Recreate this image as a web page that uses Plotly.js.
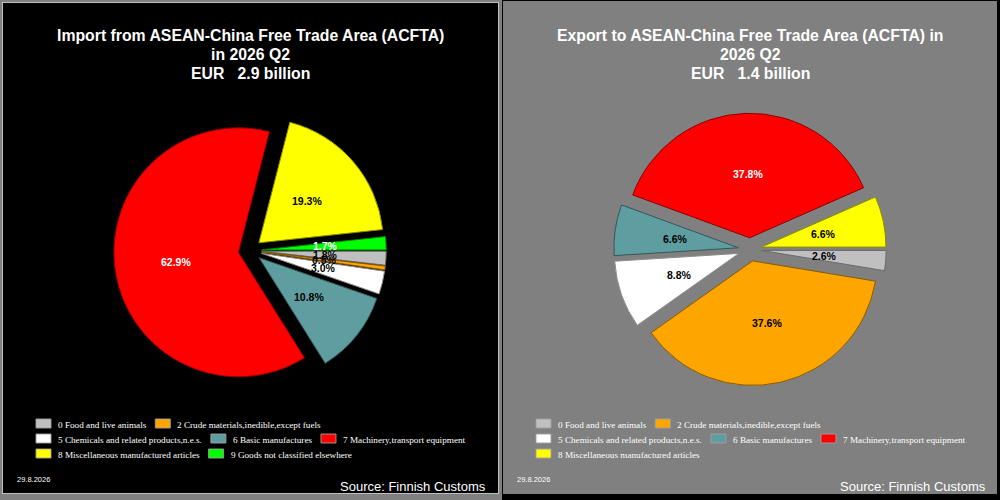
<!DOCTYPE html>
<html>
<head>
<meta charset="utf-8">
<script src="https://cdn.plot.ly/plotly-3.0.1.min.js"></script>
<style>
  html, body { margin: 0; padding: 0; background: #808080; }
  #wrap { position: relative; width: 1000px; height: 500px; overflow: hidden; }
  #imp { position: absolute; left: 0; top: 0; width: 500px; height: 500px; }
  #exp { position: absolute; left: 500px; top: 0; width: 500px; height: 500px; }
</style>
</head>
<body>
<div id="wrap"><div id="imp"></div><div id="exp"></div></div>
<script>
// SITC sections, shares (%) and section colours
const importCategories = [
  '0 Food and live animals',
  '2 Crude materials,inedible,except fuels',
  '5 Chemicals and related products,n.e.s.',
  '6 Basic manufactures',
  '7 Machinery,transport equipment',
  '8 Miscellaneous manufactured articles',
  '9 Goods not classified elsewhere'
];
const importShares = [1.8, 0.5, 3.0, 10.8, 62.9, 19.3, 1.7];
const importColors = ['#C0C0C0', '#FFA500', '#FFFFFF', '#5F9EA0', '#FF0000', '#FFFF00', '#00FF00'];

const exportCategories = [
  '0 Food and live animals',
  '2 Crude materials,inedible,except fuels',
  '5 Chemicals and related products,n.e.s.',
  '6 Basic manufactures',
  '7 Machinery,transport equipment',
  '8 Miscellaneous manufactured articles'
];
const exportShares = [2.6, 37.6, 8.8, 6.6, 37.8, 6.6];
const exportColors = ['#C0C0C0', '#FFA500', '#FFFFFF', '#5F9EA0', '#FF0000', '#FFFF00'];

const importTitle = ['Import from ASEAN-China Free Trade Area (ACFTA)', 'in 2026 Q2', 'EUR\u00A0\u00A0\u00A02.9 billion'];
const exportTitle = ['Export to ASEAN-China Free Trade Area (ACFTA) in', '2026 Q2', 'EUR\u00A0\u00A0\u00A01.4 billion'];
const dateText = '29.8.2026';
const sourceText = 'Source: Finnish Customs';

// ---- drawing helpers ----
const W = 500, H = 500;
const SANS = 'Liberation Sans, Arial, sans-serif';
const SERIF = 'Liberation Serif, Times New Roman, serif';
const px = x => x / W;
const py = y => 1 - y / H;

function darken(hex, f) {
  const n = parseInt(hex.slice(1), 16);
  const r = Math.round(((n >> 16) & 255) * f);
  const g = Math.round(((n >> 8) & 255) * f);
  const b = Math.round((n & 255) * f);
  return 'rgb(' + r + ',' + g + ',' + b + ')';
}
const labelInk = { '#FF0000': '#FFFFFF', '#00FF00': '#FFFFFF' };

const measureCtx = document.createElement('canvas').getContext('2d');
function textWidth(str, font) { measureCtx.font = font; return measureCtx.measureText(str).width; }

function rect(x0, y0, x1, y1, fill, line, layer) {
  return {
    type: 'rect', xref: 'paper', yref: 'paper',
    x0: px(x0), x1: px(x1), y0: py(y1), y1: py(y0),
    fillcolor: fill, line: { width: line ? 1 : 0, color: line || fill }, layer: layer || 'below'
  };
}
function label(x, y, text, size, color, family, xanchor, bold) {
  return {
    xref: 'paper', yref: 'paper', x: px(x), y: py(y), text: text, showarrow: false,
    xanchor: xanchor || 'center', yanchor: 'middle',
    font: { family: family, size: size, color: color, weight: bold ? 'bold' : 'normal' }
  };
}

function drawPanel(el, cfg) {
  const { categories, shares, colors, title, frame, bg } = cfg;
  const R = 124.5, PULL = 0.094, CX = 250, CY = cfg.cy;
  const half = R * (1 + PULL);
  const shapes = [];
  const annotations = [];

  // panel frame and face
  frame.forEach(f => shapes.push(rect(f[0], f[1], f[2], f[3], f[4])));

  // three-line heading
  const titleRows = [35, 54.3, 73.3];
  title.forEach((t, i) => annotations.push(label(250, titleRows[i], t, 15.8, '#FFFFFF', SANS, 'center', true)));

  // percentage labels along each slice's mid-angle
  const total = shares.reduce((a, b) => a + b, 0);
  let cum = 0;
  shares.forEach((v, i) => {
    const mid = 2 * Math.PI * (cum + v / 2) / total;
    cum += v;
    const d = R * PULL + R * 0.51;
    annotations.push(label(CX + Math.cos(mid) * d, CY + Math.sin(mid) * d,
      v.toFixed(1) + '%', 10.5, labelInk[colors[i]] || '#000000', SANS, 'center', true));
  });

  // legend: boxes and serif captions flowing in rows
  const legFont = 9.2;
  const legCss = legFont + 'px "Liberation Serif"';
  let lx = 36, row = 0;
  const rowTop = 419, rowStep = 15, maxRight = 486;
  categories.forEach((c, i) => {
    const w = 20 + textWidth(c, legCss);
    if (lx > 36 && lx + w > maxRight) { row += 1; lx = 36; }
    const top = rowTop + row * rowStep;
    shapes.push(rect(lx, top, lx + 15, top + 9, colors[i], 'rgba(160,160,160,0.9)', 'above'));
    annotations.push(label(lx + 20, top + 5.5, c, legFont, '#FFFFFF', SERIF, 'left', false));
    lx += w + 11;
  });

  annotations.push(label(15, 479, dateText, 7.5, '#FFFFFF', SANS, 'left', false));
  annotations.push(label(488, 486.5, sourceText, 13, '#FFFFFF', SANS, 'right', false));

  const trace = {
    type: 'pie',
    labels: categories,
    values: shares,
    sort: false,
    direction: 'clockwise',
    rotation: 90,
    pull: shares.map(() => PULL),
    marker: { colors: colors, line: { color: colors.map(c => darken(c, 0.55)), width: 1 } },
    textinfo: 'none',
    hoverinfo: 'label+percent',
    showlegend: false,
    domain: { x: [px(CX - half), px(CX + half)], y: [py(CY + half), py(CY - half)] }
  };

  const layout = {
    width: W, height: H,
    margin: { l: 0, r: 0, t: 0, b: 0, pad: 0 },
    paper_bgcolor: bg,
    showlegend: false,
    shapes: shapes,
    annotations: annotations
  };
  Plotly.newPlot(el, [trace], layout, { staticPlot: true, displayModeBar: false });
}

drawPanel('imp', {
  categories: importCategories, shares: importShares, colors: importColors,
  title: importTitle, bg: '#808080', cy: 250.5,
  frame: [[2, 2, 499, 494, '#C0C0C0'], [3, 3, 498, 493, '#000000']]
});
drawPanel('exp', {
  categories: exportCategories, shares: exportShares, colors: exportColors,
  title: exportTitle, bg: '#808080', cy: 249.5,
  frame: [[2, 0, 500, 500, '#000000'], [3, 1, 497, 494, '#808080']]
});
</script>
</body>
</html>
